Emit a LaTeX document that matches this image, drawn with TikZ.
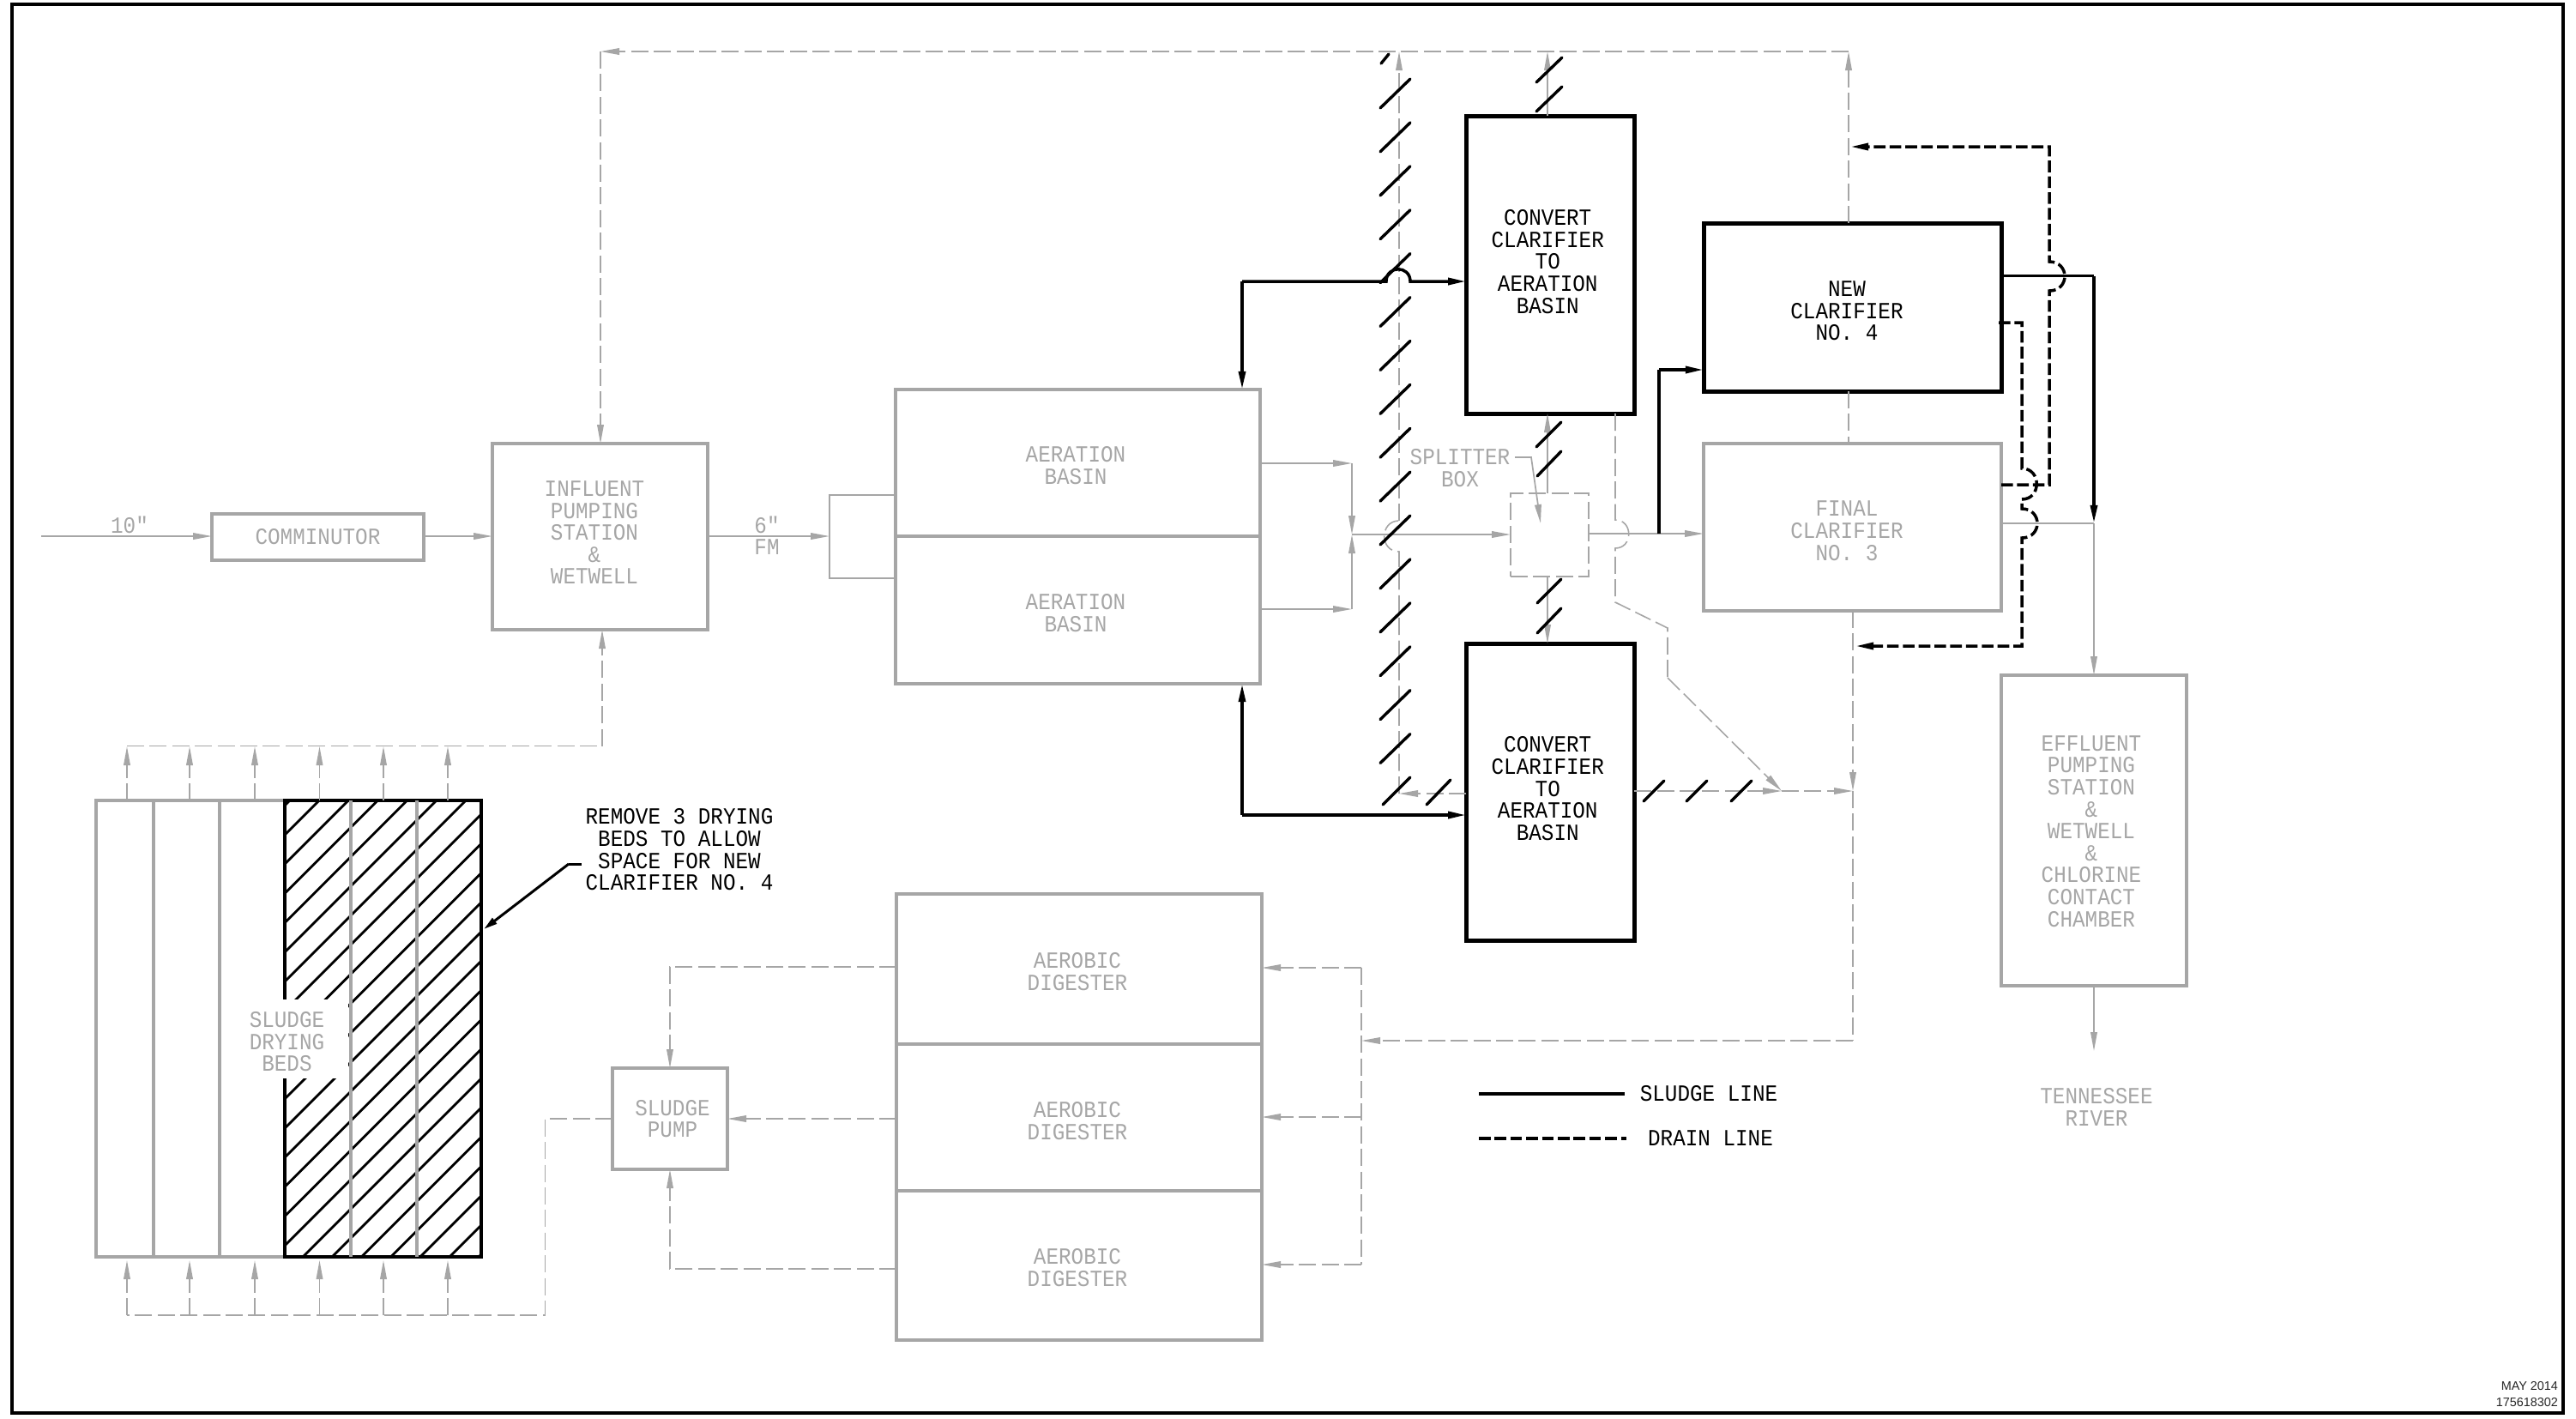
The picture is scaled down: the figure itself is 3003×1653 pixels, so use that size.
\documentclass[tikz,border=0pt]{standalone}
\usepackage{fontspec}
\usetikzlibrary{arrows.meta}
\newfontfamily\cadfam[FakeStretch=0.9]{Liberation Mono}
\newfontfamily\notefam{Liberation Sans}
\definecolor{pg}{HTML}{A6A6A6}
% text shifted by dx,dy picture pixels inside its node
\newcommand\lbl[3]{\vbox{\kern\dimexpr#2pt/2+2pt\relax\hbox{\kern\dimexpr#1pt/2\relax\begin{tabular}{@{}c@{}}#3\end{tabular}}}}
\tikzset{
  sz/.style 2 args={minimum width=#1*0.25pt,minimum height=#2*0.25pt},
  gt/.tip={Triangle[length=5.5pt,width=1.9pt]},
  bt/.tip={Triangle[length=5.3pt,width=2pt]},
  cad/.style={inner sep=0pt,outer sep=0pt,font=\fontsize{6.75pt}{6.375pt}\selectfont\cadfam},
  gbox/.style={cad,draw=pg,text=pg,line width=1.1pt},
  bbox/.style={cad,draw=black,text=black,line width=1.25pt},
  gtxt/.style={cad,text=pg},
  btxt/.style={cad,text=black},
  gline/.style={draw=pg,line width=0.42pt},
  gdash/.style={draw=pg,line width=0.4pt,dash pattern=on 5pt off 1.6pt},
  bline/.style={draw=black,line width=0.875pt},
  bdash/.style={draw=black,line width=0.875pt,dash pattern=on 3.4pt off 1.2pt},
  slash/.style={draw=black,line width=0.85pt,line cap=round},
}
\begin{document}
\begin{tikzpicture}[x=0.25pt,y=-0.25pt]
\useasboundingbox (0,0) rectangle (3003,1653);
\draw[line width=1pt,black] (14,5) rectangle (2988,1647);

% ---------- process boxes
\node[gbox,sz={247}{54}] (comm) at (370.5,626) {COMMINUTOR};
\node[gbox,sz={251}{217}] (influent) at (699.5,625.5) {\lbl{-6.5}{-5}{INFLUENT\\PUMPING\\STATION\\\&\\WETWELL}};
\node[gbox,sz={425}{171}] (aerA) at (1256.5,539.5) {\lbl{-2.5}{3}{AERATION\\BASIN}};
\node[gbox,sz={425}{172}] (aerB) at (1256.5,711) {\lbl{-2.5}{3}{AERATION\\BASIN}};
\node[bbox,sz={196}{347}] (convTop) at (1807.25,308.5) {\lbl{-3}{-4}{CONVERT\\CLARIFIER\\TO\\AERATION\\BASIN}};
\node[bbox,sz={196}{346}] (convBot) at (1807.25,923) {\lbl{-3}{-4}{CONVERT\\CLARIFIER\\TO\\AERATION\\BASIN}};
\node[bbox,sz={347}{196}] (newC) at (2159.5,358) {\lbl{-6.5}{4}{NEW\\CLARIFIER\\NO. 4}};
\node[gbox,sz={347}{195}] (finalC) at (2159.5,614.3) {\lbl{-6.5}{4}{FINAL\\CLARIFIER\\NO. 3}};
\node[gbox,sz={216}{362}] (eff) at (2441,968) {\lbl{-3}{0.5}{EFFLUENT\\PUMPING\\STATION\\\&\\WETWELL\\\&\\CHLORINE\\CONTACT\\CHAMBER}};
\node[gbox,sz={426}{175}] (digA) at (1258,1129.5) {\lbl{-2}{2.5}{AEROBIC\\DIGESTER}};
\node[gbox,sz={426}{171}] (digB) at (1258,1302.5) {\lbl{-2}{3.5}{AEROBIC\\DIGESTER}};
\node[gbox,sz={426}{174}] (digC) at (1258,1475) {\lbl{-2}{2}{AEROBIC\\DIGESTER}};
\node[gbox,sz={134}{118}] (pump) at (781,1304) {\lbl{3}{0}{SLUDGE\\PUMP}};
\node[draw=pg,line width=0.5pt,inner sep=0pt,outer sep=0pt,sz={77}{97}] (fmbox) at (1005.5,625.5) {};
\node[draw=pg,line width=0.4pt,dash pattern=on 5pt off 1.6pt,inner sep=0pt,outer sep=0pt,sz={91}{97}] (split) at (1806.5,623.5) {};

% ---------- drying beds
\node[draw=pg,line width=1.05pt,inner sep=0pt,outer sep=0pt,sz={449}{532}] (beds) at (336.5,1199) {};
\draw[pg,line width=1.05pt] (179,933) -- (179,1465) (256,933) -- (256,1465);
\begin{scope}
\clip (332,933) rectangle (561,1465);
\foreach \k in {-2,...,21}
  \draw[black,line width=0.7pt] ({1305+34.2*\k-1500},1500) -- ({1305+34.2*\k-900},900);
\end{scope}
\draw[black,line width=0.95pt] (332,933) rectangle (561,1465);
\draw[pg,line width=0.95pt] (409,933) -- (409,1465) (486,933) -- (486,1465);
\node[gtxt,fill=white,sz={116}{88}] (bedsTxt) at (348,1211) {\lbl{-13.5}{3}{SLUDGE\\DRYING\\BEDS}};

% ---------- text labels
\node[gtxt] (lab10) at (151,612) {10"};
\node[gtxt] (lab6) at (894,624) {\lbl{0}{0}{6"\\FM}};
\node[gtxt] (splitTxt) at (1702,545.5) {\lbl{0}{0}{SPLITTER\\BOX}};
\node[gtxt] (river) at (2444,1290.5) {\lbl{0}{0}{TENNESSEE\\RIVER}};
\node[btxt] (remove) at (792,990) {\lbl{0}{0}{REMOVE 3 DRYING\\BEDS TO ALLOW\\SPACE FOR NEW\\CLARIFIER NO. 4}};
\node[btxt] (legS) at (1992,1275) {SLUDGE LINE};
\node[btxt] (legD) at (1994,1327) {DRAIN LINE};
\node[inner sep=0pt,outer sep=0pt,anchor=east,font=\fontsize{3.6pt}{4.75pt}\selectfont\notefam,text=black!85,align=right] (stamp) at (2982,1625) {MAY 2014\\175618302};

% ---------- named points
\coordinate (inlet) at (48,625);
\coordinate (topL) at (700,60);
\coordinate (topA) at (1631,60);
\coordinate (topB) at (1804,60);
\coordinate (topR) at (2155,60);
\coordinate (lineA) at (1631,925);
\coordinate (mergeW) at (1576,623);
\coordinate (aOutA) at (1576,540);
\coordinate (aOutB) at (1576,710);
\coordinate (tee) at (1934,622);
\coordinate (dropX) at (2160,922);
\coordinate (dropY) at (2160,1213);
\coordinate (drainJ) at (2077,922);
\coordinate (digBus) at (1587,1213);
\coordinate (busT) at (1587,1128);
\coordinate (busM) at (1587,1302);
\coordinate (busB) at (1587,1474);
\coordinate (pumpT) at (781,1127);
\coordinate (pumpB) at (781,1479);
\coordinate (pumpL) at (635.5,1304);
\coordinate (pumpLL) at (635.5,1533);
\coordinate (bedBL) at (148,1533);
\coordinate (bedTL) at (148,869.5);
\coordinate (bedTR) at (702,869.5);
\coordinate (effT) at (2441,610);
\coordinate (blkCorner) at (2441,321.5);
\coordinate (legSa) at (1724,1275);
\coordinate (legSb) at (1894,1275);
\coordinate (legDa) at (1724,1327);
\coordinate (legDb) at (1896,1327);

% ---------- gray solid connectors
\draw[gline,-gt] (inlet) -- (comm.west |- inlet);
\draw[gline,-gt] (comm.east |- inlet) -- (influent.west |- inlet);
\draw[gline,-gt] (influent.east |- inlet) -- (fmbox.west |- inlet);
\draw[gline,-gt] (aerA.east |- aOutA) -- (aOutA);
\draw[gline,-gt] (aerB.east |- aOutB) -- (aOutB);
\draw[gline,-gt] (aOutA) -- (mergeW);
\draw[gline,-gt] (aOutB) -- (mergeW);
\draw[gline,-gt] (mergeW) -- (split.west |- mergeW);
\draw[gline,-gt] (split.east |- tee) -- (finalC.west |- tee);
\draw[gline,-gt] (split.north -| topB) -- (convTop.south -| topB);
\draw[gline,-gt] (split.south -| topB) -- (convBot.north -| topB);
\draw[gline,-gt] (convTop.north -| topB) -- (topB);
\draw[gline] (finalC.east |- effT) -- (effT);
\draw[gline,-gt] (effT) -- (eff.north -| effT);
\draw[gline,-gt] (eff.south) -- (2441,1225);
\draw[gline,-gt] (1766,533) -- (1785,533) -- (1796,610);

% ---------- gray dashed connectors
\draw[gdash,-gt] (newC.north -| topR) -- (topR);
\draw[gdash,-gt] (topR) -- (topL);
\draw[gdash,-gt] (topL) -- (influent.north -| topL);
\draw[gdash,-gt] (convBot.west |- lineA) -- (lineA);
\draw[gdash] (lineA) -- (1631,643) .. controls +(-23,0) and +(-23,0) .. (1631,607);
\draw[gdash,-gt] (1631,607) -- (topA);
\draw[gdash] (newC.south -| topR) -- (finalC.north -| topR);
\draw[gdash] (convTop.south -| 1883,0) -- (1883,606) .. controls +(21,0) and +(21,0) .. (1883,639) -- (1883,702) -- (1944,732) -- (1944,790);
\draw[gdash,-gt] (1944,790) -- (drainJ);
\draw[gdash,-gt] (convBot.east |- drainJ) -- (drainJ);
\draw[gdash,-gt] (drainJ) -- (dropX);
\draw[gdash,-gt] (finalC.south -| dropX) -- (dropX);
\draw[gdash] (dropX) -- (dropY);
\draw[gdash,-gt] (dropY) -- (digBus);
\draw[gdash,-gt] (busT) -- (digA.east |- busT);
\draw[gdash,-gt] (busM) -- (digB.east |- busM);
\draw[gdash,-gt] (busB) -- (digC.east |- busB);
\draw[gdash] (busT) -- (busB);
\draw[gdash,-gt] (digA.west |- pumpT) -- (pumpT) -- (pump.north -| pumpT);
\draw[gdash,-gt] (digC.west |- pumpB) -- (pumpB) -- (pump.south -| pumpB);
\draw[gdash,-gt] (digB.west |- pumpL) -- (pump.east |- pumpL);
\draw[gdash] (pump.west |- pumpL) -- (pumpL) -- (pumpLL) -- (bedBL);
\foreach \x in {148,221,297,372.5,447,522} {
  \draw[gdash,-gt] (\x,1533) -- (\x,1469);
  \draw[gdash,-gt] (\x,933) -- (\x,870);
}
\draw[gdash] (bedTL) -- (bedTR);
\draw[gdash,-gt] (bedTR) -- (influent.south -| bedTR);

% ---------- sludge lines
\draw[bline,-bt] (1448,328) -- (aerA.north -| 1448,0);
\draw[bline,-bt] (1448,328) -- (1616,328) .. controls +(0,-19) and +(0,-19) .. (1644,328) -- (convTop.west |- 1448,328);
\draw[bline,-bt] (1448,950) -- (aerB.south -| 1448,0);
\draw[bline,-bt] (1448,950) -- (convBot.west |- 1448,950);
\draw[bline] (tee) -- (1934,431);
\draw[bline,-bt] (1934,431) -- (newC.west |- 1934,431);
\draw[bline] (newC.east |- blkCorner) -- (blkCorner);
\draw[bline,-bt] (blkCorner) -- (effT);
\draw[draw=black,line width=0.75pt,-{Triangle[length=4pt,width=2pt]}] (663,1007) -- (564,1083);
\draw[draw=black,line width=0.75pt] (677.5,1007) -- (663,1007);

% ---------- drain lines
\draw[bdash,-bt] (finalC.east |- 2389,565) -- (2389,565) -- (2389,339) .. controls +(24,0) and +(24,0) .. (2389,305) -- (2389,171) -- (2157,171);
\draw[bdash,-bt] (2330,376) -- (2357,376) -- (2357,546) .. controls +(23,0) and +(23,0) .. (2357,582) -- (2357,593) .. controls +(24,0) and +(24,0) .. (2357,627) -- (2357,753) -- (2163,753);

% ---------- legend
\draw[bline] (legSa) -- (legSb);
\draw[bdash] (legDa) -- (legDb);

% ---------- breaks marks
\foreach \k in {0,...,15}
  \draw[slash] (1609,{126+50.9*\k}) -- (1644,{92+50.9*\k});
\draw[slash] (1610,74) -- (1619,63);
\draw[slash] (1612,938) -- (1644,906);
\draw[slash] (1663,938) -- (1691,909);
\draw[slash] (1791,96) -- (1821,67);
\draw[slash] (1791,130) -- (1821,101);
\draw[slash] (1791,521) -- (1820,492);
\draw[slash] (1792,555) -- (1820,526);
\draw[slash] (1792,703) -- (1820,675);
\draw[slash] (1792,738) -- (1820,709);
\foreach \x in {1916,1966,2018}
  \draw[slash] (\x,934) -- ({\x+24},910);
\end{tikzpicture}
\end{document}
